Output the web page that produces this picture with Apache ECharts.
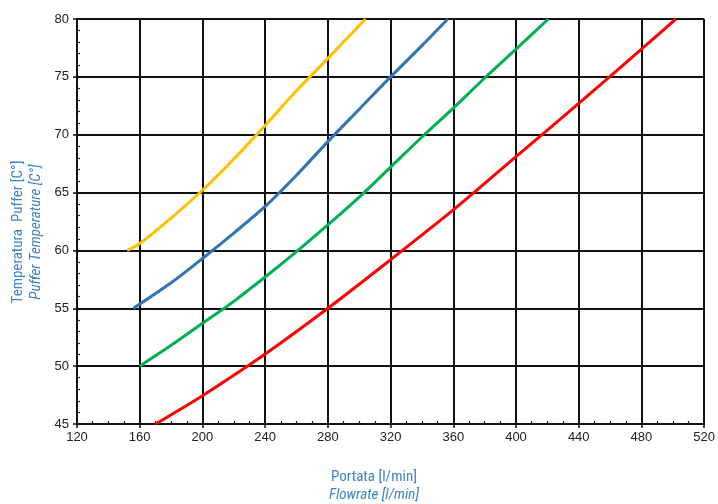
<!DOCTYPE html>
<html>
<head>
<meta charset="utf-8">
<script src="https://cdn.jsdelivr.net/npm/echarts@6/dist/echarts.min.js"></script>
<style>
html,body{margin:0;padding:0;background:#fff;}
#chart{width:718px;height:504px;}
</style>
</head>
<body>
<div id="chart"></div>
<script>
// Data (flowrate l/min, temperature °C)
const yellowX = [152, 160, 180, 200, 220, 240, 260, 280, 304];
const yellowY = [60.0, 60.6, 62.8, 65.2, 67.9, 70.8, 73.8, 76.6, 80.0];
const blueX = [156, 180, 200, 220, 240, 260, 280, 300, 320, 340, 356.5];
const blueY = [55.0, 57.2, 59.3, 61.5, 63.8, 66.5, 69.4, 72.2, 75.0, 77.7, 80.0];
const greenX = [160, 180, 200, 220, 240, 260, 280, 300, 320, 340, 360, 380, 400, 420.6];
const greenY = [50.0, 51.8, 53.7, 55.6, 57.7, 59.9, 62.2, 64.6, 67.2, 69.8, 72.3, 74.9, 77.4, 80.0];
const redX = [170, 200, 240, 280, 320, 360, 400, 440, 480, 502];
const redY = [45.0, 47.45, 51.05, 55.0, 59.2, 63.5, 68.1, 72.7, 77.4, 80.0];
const xTicks = [120, 160, 200, 240, 280, 320, 360, 400, 440, 480, 520];
const yTicks = [45, 50, 55, 60, 65, 70, 75, 80];
const xName = ['Portata [l/min]', 'Flowrate [l/min]'];
const yName = ['Temperatura  Puffer [C°]', 'Puffer Temperature [C°]'];

const zip = (xs, ys) => xs.map((x, i) => [x, ys[i]]);
const chart = echarts.init(document.getElementById('chart'), null, {renderer: 'canvas'});
const labelFont = {color: '#222', fontSize: 13, fontFamily: 'Liberation Sans, Arial, sans-serif'};
const nameColor = '#3d85c6';
const narrow = 'Liberation Sans Narrow, Roboto Condensed, sans-serif';

const xMin = xTicks[0], xMax = xTicks[xTicks.length - 1], xInt = xTicks[1] - xTicks[0];
const yMin = yTicks[0], yMax = yTicks[yTicks.length - 1], yInt = yTicks[1] - yTicks[0];

function mkSeries(xs, ys, color) {
  return {
    type: 'line', data: zip(xs, ys), smooth: 0.3, showSymbol: false, symbol: 'none',
    lineStyle: {color: color, width: 3}, xAxisIndex: 0, yAxisIndex: 0, z: 5
  };
}

chart.setOption({
  animation: false,
  backgroundColor: '#fff',
  grid: {left: 77, right: 13, top: 19, bottom: 80, containLabel: false},
  xAxis: [
    {
      type: 'value', min: xMin, max: xMax, interval: xInt, position: 'bottom',
      axisLine: {show: true, onZero: false, lineStyle: {color: '#111', width: 2}},
      axisTick: {show: true, inside: false, length: 4, lineStyle: {color: '#111', width: 1.5}},
      axisLabel: Object.assign({margin: 7}, labelFont),
      splitLine: {show: true, lineStyle: {color: '#111', width: 2}},
      minorTick: {show: false}
    },
    {
      type: 'value', min: xMin, max: xMax, interval: xInt, position: 'bottom',
      axisLine: {show: false, onZero: false},
      axisTick: {show: false, inside: true},
      axisLabel: {show: false},
      splitLine: {show: false},
      minorTick: {show: true, splitNumber: 4, length: 3, lineStyle: {color: '#222', width: 1.2}}
    }
  ],
  yAxis: [
    {
      type: 'value', min: yMin, max: yMax, interval: yInt, position: 'left',
      axisLine: {show: true, onZero: false, lineStyle: {color: '#111', width: 2}},
      axisTick: {show: true, inside: false, length: 4, lineStyle: {color: '#111', width: 1.5}},
      axisLabel: Object.assign({margin: 8}, labelFont),
      splitLine: {show: true, lineStyle: {color: '#111', width: 2}},
      minorTick: {show: false}
    },
    {
      type: 'value', min: yMin, max: yMax, interval: yInt, position: 'left',
      axisLine: {show: false, onZero: false},
      axisTick: {show: false, inside: true},
      axisLabel: {show: false},
      splitLine: {show: false},
      minorTick: {show: true, splitNumber: 5, length: 3, lineStyle: {color: '#222', width: 1.2}}
    }
  ],
  series: [
    mkSeries(yellowX, yellowY, '#FFC000'),
    mkSeries(blueX, blueY, '#2E75B6'),
    mkSeries(greenX, greenY, '#00B050'),
    mkSeries(redX, redY, '#FF0000')
  ],
  graphic: [
    {type: 'text', x: 374, y: 477, style: {text: xName[0], fill: nameColor, font: '15px ' + narrow, textAlign: 'center', textVerticalAlign: 'middle'}},
    {type: 'text', x: 374, y: 495, style: {text: xName[1], fill: nameColor, font: 'italic 15px ' + narrow, textAlign: 'center', textVerticalAlign: 'middle'}},
    {type: 'text', x: 18, y: 232, rotation: Math.PI / 2, style: {text: yName[0], fill: nameColor, font: '15px ' + narrow, textAlign: 'center', textVerticalAlign: 'middle'}},
    {type: 'text', x: 36, y: 232, rotation: Math.PI / 2, style: {text: yName[1], fill: nameColor, font: 'italic 15px ' + narrow, textAlign: 'center', textVerticalAlign: 'middle'}}
  ]
});
</script>
</body>
</html>
